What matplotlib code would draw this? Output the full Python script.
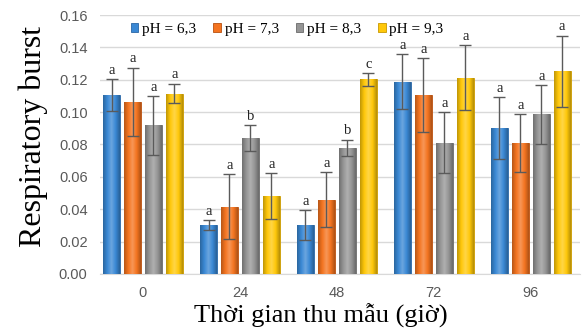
import numpy as np
import matplotlib.pyplot as plt
from matplotlib.colors import LinearSegmentedColormap, to_rgb

# thời gian thu mẫu (giờ)
times = ["0", "24", "48", "72", "96"]
labels = ["pH = 6,3", "pH = 7,3", "pH = 8,3", "pH = 9,3"]
colors = ["#3a88d4", "#f47420", "#959595", "#ffc80a"]
edges = ["#2a66a6", "#b85010", "#6a6a6a", "#c89800"]

ph63 = [0.1105, 0.0302, 0.0302, 0.1187, 0.0903]
ph73 = [0.1064, 0.0415, 0.0457, 0.1105, 0.0807]
ph83 = [0.0918, 0.0838, 0.0780, 0.0811, 0.0986]
ph93 = [0.1115, 0.0481, 0.1202, 0.1212, 0.1253]

err63 = [0.010, 0.003, 0.009, 0.017, 0.019]
err73 = [0.021, 0.020, 0.017, 0.023, 0.018]
err83 = [0.018, 0.008, 0.005, 0.019, 0.018]
err93 = [0.006, 0.014, 0.004, 0.020, 0.022]

let63 = ["a", "a", "a", "a", "a"]
let73 = ["a", "a", "a", "a", "a"]
let83 = ["a", "b", "b", "a", "a"]
let93 = ["a", "a", "c", "a", "a"]

series = [ph63, ph73, ph83, ph93]
errs = [err63, err73, err83, err93]
lets = [let63, let73, let83, let93]

plt.rcParams['font.family'] = ['Liberation Serif', 'DejaVu Serif']

fig = plt.figure(figsize=(5.85, 3.28), dpi=100)
ax = fig.add_axes([0.171, 0.165, 0.82, 0.789])

x = np.arange(len(times))
w = 0.175
pitch = 0.216
grad = np.linspace(0, 1, 64).reshape(1, -1)
for i in range(4):
    xs = x + (i - 1.5) * pitch
    c = np.array(to_rgb(colors[i]))
    dark = c * 0.75
    light = np.minimum(c + (1 - c) * 0.25, 1)
    cmap = LinearSegmentedColormap.from_list("g%d" % i, [dark, c, light, c, dark * 0.95])
    bars = ax.bar(xs, series[i], w, color=colors[i], edgecolor=edges[i], linewidth=0.6,
                  label=labels[i], zorder=3)
    for b in bars:
        im = ax.imshow(grad, extent=[b.get_x(), b.get_x() + b.get_width(), 0, b.get_height()],
                       aspect="auto", cmap=cmap, zorder=3.1)
        im.set_clip_path(b)
    ax.errorbar(xs, series[i], yerr=errs[i], fmt="none", ecolor="#5a5a5a",
                elinewidth=1.0, capsize=4, capthick=1.0, zorder=4)
    for xi, v, e, t in zip(xs, series[i], errs[i], lets[i]):
        ax.text(xi, v + e + 0.0015, t, ha="center", va="bottom", fontsize=10.5, color="#222222")

ax.set_xlim(-0.443, 4.505)
ax.set_ylim(0, 0.16)
ax.set_yticks(np.arange(0, 0.161, 0.02))
ax.set_yticklabels([f"{v:.2f}" for v in np.arange(0, 0.161, 0.02)])
ax.set_xticks(x)
ax.set_xticklabels(times)
ax.grid(axis="y", color="#d9d9d9", linewidth=1, zorder=0)
for s in ["top", "right", "left"]:
    ax.spines[s].set_visible(False)
ax.spines["bottom"].set_color("#d9d9d9")
ax.tick_params(length=0, colors="#595959", labelsize=10.5)
ax.tick_params(axis="x", pad=9)
ax.tick_params(axis="y", pad=9)
for lab in ax.get_xticklabels() + ax.get_yticklabels():
    lab.set_family(['Liberation Sans Narrow', 'Liberation Sans', 'DejaVu Sans'])

ax.set_ylabel("Respiratory burst", fontsize=23, labelpad=8, y=0.53)
ax.set_xlabel("Thời gian thu mẫu (giờ)", fontsize=19, labelpad=2, x=0.461)

ax.legend(loc="upper left", bbox_to_anchor=(0.045, 1.005), ncol=4, frameon=False,
          fontsize=11, handlelength=0.5, handleheight=0.5, handletextpad=0.25,
          columnspacing=1.1, borderaxespad=0.2)

fig.savefig("out.png", dpi=100)
